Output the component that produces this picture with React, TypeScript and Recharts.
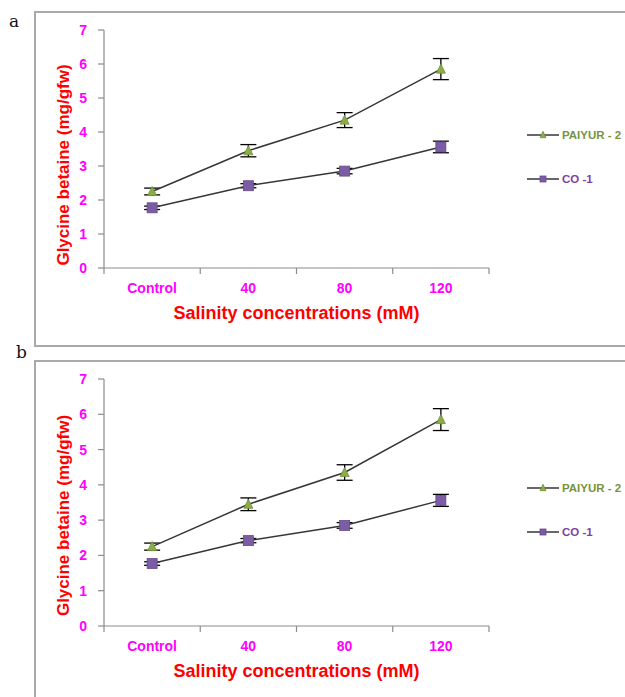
import React from 'react';
import { LineChart, Line, XAxis, YAxis, ErrorBar, Label, Legend } from 'recharts';

const categories = ['Control', '40', '80', '120'];
const paiyurValues = [2.25, 3.45, 4.35, 5.85];
const paiyurErrors = [0.1, 0.18, 0.22, 0.31];
const co1Values = [1.77, 2.42, 2.85, 3.56];
const co1Errors = [0.05, 0.06, 0.08, 0.17];
const yTicks = [0, 1, 2, 3, 4, 5, 6, 7];
const seriesNames = ['PAIYUR - 2', 'CO -1'];

const data = categories.map((c, i) => ({
  cat: c,
  paiyur: paiyurValues[i],
  paiyurErr: paiyurErrors[i],
  co1: co1Values[i],
  co1Err: co1Errors[i],
}));

const FONT = '"Liberation Sans", Arial, sans-serif';
const AXIS = '#8c8c8c';
const MAGENTA = '#ff00ff';
const RED = '#ff0000';
const LINE = '#363636';
const GREEN_FILL = '#8aad48';
const GREEN_STROKE = '#71903a';
const GREEN_TEXT = '#77933c';
const PURPLE_FILL = '#7d5ca6';
const PURPLE_STROKE = '#654a8c';
const PURPLE_TEXT = '#7f3fa6';

const CHART_W = 625;
const MARGIN_LEFT = 64;
const MARGIN_RIGHT = 136;
const YAXIS_W = 40;
const BAND = (CHART_W - MARGIN_LEFT - MARGIN_RIGHT - YAXIS_W) / categories.length;

const Triangle = (props: any) => {
  const { cx, cy, size = 9 } = props;
  if (cx == null || cy == null) return <g key={props.key} />;
  const h = size * 0.9;
  return (
    <path
      key={props.key}
      d={`M${cx},${cy - h / 2 - 1} L${cx + size / 2},${cy + h / 2} L${cx - size / 2},${cy + h / 2} Z`}
      fill={GREEN_FILL}
      stroke={GREEN_STROKE}
      strokeWidth={0.8}
    />
  );
};

const Square = (props: any) => {
  const { cx, cy, size = 9 } = props;
  if (cx == null || cy == null) return <g key={props.key} />;
  return (
    <rect
      key={props.key}
      x={cx - size / 2}
      y={cy - size / 2}
      width={size}
      height={size}
      fill={PURPLE_FILL}
      stroke={PURPLE_STROKE}
      strokeWidth={0.8}
    />
  );
};

const XTick = (props: any) => {
  const { x, y, payload, index } = props;
  const half = BAND / 2;
  return (
    <g>
      <line x1={x - half} x2={x - half} y1={y} y2={y + 6} stroke={AXIS} strokeWidth={1.2} />
      {index === categories.length - 1 && (
        <line x1={x + half} x2={x + half} y1={y} y2={y + 6} stroke={AXIS} strokeWidth={1.2} />
      )}
      <text
        x={x}
        y={y + 20}
        textAnchor="middle"
        dominantBaseline="central"
        fill={MAGENTA}
        fontSize={14}
        fontWeight="bold"
        fontFamily={FONT}
      >
        {payload.value}
      </text>
    </g>
  );
};

const LegendContent = (props: any) => {
  const payload = [...(props.payload || [])].sort(
    (a: any, b: any) => seriesNames.indexOf(a.value) - seriesNames.indexOf(b.value)
  );
  return (
    <svg width={100} height={60} style={{ overflow: 'visible', display: 'block' }}>
      {payload.map((entry: any, i: number) => {
        const y = 8 + i * 44;
        const isGreen = entry.dataKey === 'paiyur';
        return (
          <g key={i}>
            <line x1={0} x2={32} y1={y} y2={y} stroke={LINE} strokeWidth={1.5} />
            {isGreen ? <Triangle cx={16} cy={y} size={6} /> : <Square cx={16} cy={y} size={6} />}
            <text
              x={35}
              y={y}
              dominantBaseline="central"
              fontSize={11.5}
              fontWeight="bold"
              fontFamily={FONT}
              fill={isGreen ? GREEN_TEXT : PURPLE_TEXT}
            >
              {entry.value}
            </text>
          </g>
        );
      })}
    </svg>
  );
};

const Panel = ({ top, height, marginTop, marginBottom, legendTop, yLabelShift }: any) => (
  <div style={{ position: 'absolute', left: 0, top, width: CHART_W, height }}>
    <LineChart
      width={CHART_W}
      height={height}
      data={data}
      margin={{ top: marginTop, right: MARGIN_RIGHT, bottom: marginBottom, left: MARGIN_LEFT }}
      style={{ fontFamily: FONT }}
    >
      <XAxis
        dataKey="cat"
        height={30}
        stroke={AXIS}
        strokeWidth={1.2}
        tickLine={false}
        tickSize={0}
        tickMargin={0}
        tick={<XTick />}
        interval={0}
        padding={{ left: BAND / 2, right: BAND / 2 }}
      >
        <Label
          content={(p: any) => {
            const vb = p.viewBox || {};
            return (
              <text
                x={vb.x + vb.width / 2}
                y={vb.y + 45}
                textAnchor="middle"
                dominantBaseline="central"
                fill={RED}
                fontSize={18}
                fontWeight="bold"
                fontFamily={FONT}
              >
                Salinity concentrations (mM)
              </text>
            );
          }}
        />
      </XAxis>
      <YAxis
        width={YAXIS_W}
        domain={[0, 7]}
        ticks={yTicks}
        interval={0}
        stroke={AXIS}
        strokeWidth={1.2}
        tickSize={6}
        tickMargin={11}
        tick={{ fill: MAGENTA, fontSize: 14, fontWeight: 'bold', fontFamily: FONT }}
      >
        <Label
          content={(p: any) => {
            const vb = p.viewBox || {};
            const cx = vb.x - 1;
            const cy = vb.y + vb.height / 2 + yLabelShift;
            return (
              <text
                x={cx}
                y={cy}
                transform={`rotate(-90, ${cx}, ${cy})`}
                textAnchor="middle"
                dominantBaseline="central"
                fill={RED}
                fontSize={17}
                fontWeight="bold"
                fontFamily={FONT}
              >
                Glycine betaine (mg/gfw)
              </text>
            );
          }}
        />
      </YAxis>
      <Legend
        layout="vertical"
        align="center"
        verticalAlign="middle"
        content={<LegendContent />}
        wrapperStyle={{ left: 527, top: legendTop, width: 100, height: 60 }}
      />
      <Line
        name={seriesNames[0]}
        dataKey="paiyur"
        stroke={LINE}
        strokeWidth={1.5}
        dot={(p: any) => <Triangle {...p} key={p.key} size={9} />}
        activeDot={false}
        isAnimationActive={false}
      >
        <ErrorBar dataKey="paiyurErr" width={8} stroke="#000" strokeWidth={1.3} direction="y" />
      </Line>
      <Line
        name={seriesNames[1]}
        dataKey="co1"
        stroke={LINE}
        strokeWidth={1.5}
        dot={(p: any) => <Square {...p} key={p.key} size={10} />}
        activeDot={false}
        isAnimationActive={false}
      >
        <ErrorBar dataKey="co1Err" width={8} stroke="#000" strokeWidth={1.3} direction="y" />
      </Line>
    </LineChart>
  </div>
);

const FRAME = '#a9a9a9';

export default function App() {
  return (
    <div
      style={{
        position: 'absolute',
        left: 0,
        top: 0,
        width: 625,
        height: 697,
        overflow: 'hidden',
        background: '#fff',
        fontFamily: FONT,
      }}
    >
      <div
        style={{
          position: 'absolute',
          left: 34,
          top: 11,
          width: 640,
          height: 332,
          border: `2px solid ${FRAME}`,
        }}
      />
      <div
        style={{
          position: 'absolute',
          left: 34,
          top: 360,
          width: 640,
          height: 400,
          border: `2px solid ${FRAME}`,
        }}
      />
      <div
        style={{
          position: 'absolute',
          left: 9,
          top: 11,
          fontFamily: '"DejaVu Serif", "Liberation Serif", serif',
          fontSize: 17,
          color: '#111',
        }}
      >
        a
      </div>
      <div
        style={{
          position: 'absolute',
          left: 16,
          top: 342,
          fontFamily: '"DejaVu Serif", "Liberation Serif", serif',
          fontSize: 17,
          color: '#111',
        }}
      >
        b
      </div>
      <Panel top={0} height={345} marginTop={30} marginBottom={47} legendTop={127} yLabelShift={16} />
      <Panel top={345} height={352} marginTop={34} marginBottom={41} legendTop={135} yLabelShift={13} />
    </div>
  );
}
